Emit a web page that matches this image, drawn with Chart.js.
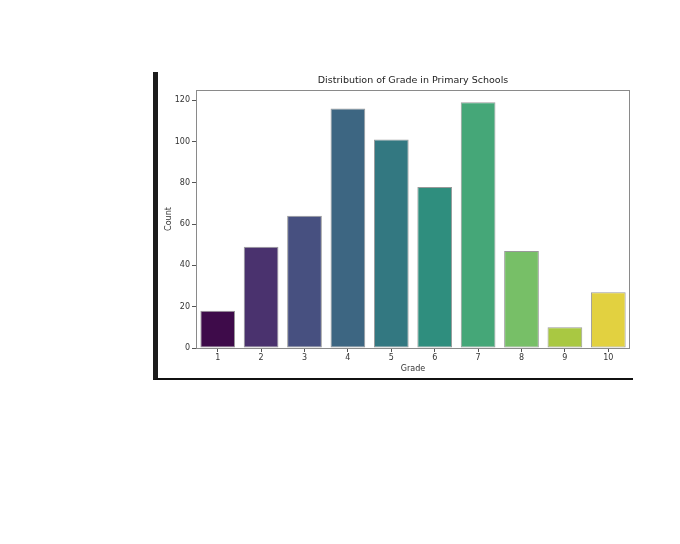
<!DOCTYPE html>
<html lang="en">
<head>
    <meta charset="UTF-8">
    <title>Distribution of Grade in Primary Schools</title>
    <script src="https://cdnjs.cloudflare.com/ajax/libs/Chart.js/4.4.1/chart.umd.min.js"></script>
    <style>
        body {
            margin: 0;
            background: #ffffff;
            width: 680px;
            height: 544px;
            position: relative;
            font-family: "DejaVu Sans", sans-serif;
        }
        .frame {
            position: absolute;
            left: 153px;
            top: 72px;
            width: 475px;
            height: 306px;
            border-left: 5px solid #1c1c1c;
            border-bottom: 2px solid #111;
        }
        .frame canvas {
            display: block;
        }
    </style>
</head>
<body>
    <div class="frame">
        <canvas id="gradeChart" width="475" height="306"></canvas>
    </div>

    <script>
        // values
        const grades = ['1', '2', '3', '4', '5', '6', '7', '8', '9', '10'];
        const counts = [18, 49, 64, 116, 101, 78, 119, 47, 10, 27];
        const yTicks = [0, 20, 40, 60, 80, 100, 120];
        const chartTitle = 'Distribution of Grade in Primary Schools';
        // viridis, desaturated like seaborn's default
        const barColors = ['#3e0b4a', '#4a326e', '#475080', '#3d6682', '#337881',
                           '#2f8e7e', '#45a778', '#77bf67', '#a9c842', '#e2d140'];

        // full box around the plot (matplotlib spines) + title centred over the axes
        const spines = {
            id: 'spines',
            afterDatasetsDraw(chart) {
                const a = chart.chartArea;
                const c = chart.ctx;
                c.save();
                c.strokeStyle = '#8a8a8a';
                c.lineWidth = 1;
                c.strokeRect(a.left + 0.5, a.top + 0.5, a.right - a.left - 1, a.bottom - a.top);
                c.fillStyle = '#222';
                c.font = '9.5px "DejaVu Sans"';
                c.textAlign = 'center';
                c.textBaseline = 'middle';
                c.fillText(chartTitle, (a.left + a.right) / 2, a.top - 9);
                c.restore();
            }
        };

        const tickFont = { family: 'DejaVu Sans', size: 8 };

        new Chart(document.getElementById('gradeChart'), {
            type: 'bar',
            data: {
                labels: grades,
                datasets: [{
                    label: 'Count',
                    data: counts,
                    backgroundColor: barColors,
                    borderColor: 'rgba(0,0,0,0.4)',
                    borderWidth: 1,
                    borderSkipped: false,
                    barPercentage: 0.8,
                    categoryPercentage: 1.0
                }]
            },
            options: {
                responsive: false,
                animation: false,
                layout: { padding: { left: 0, right: 3, top: 18, bottom: 0 } },
                plugins: {
                    legend: { display: false },
                    tooltip: { enabled: false }
                },
                scales: {
                    x: {
                        offset: true,
                        grid: { display: true, offset: false, drawOnChartArea: false, drawTicks: true, tickLength: 4, color: '#555' },
                        border: { display: false },
                        ticks: { color: '#333', font: tickFont, padding: 1, maxRotation: 0 },
                        title: {
                            display: true,
                            text: 'Grade',
                            color: '#333',
                            font: tickFont,
                            padding: { top: 0, bottom: 4 }
                        },
                        afterFit(scale) { scale.height = 30; }
                    },
                    y: {
                        min: 0,
                        max: 124.95,
                        afterBuildTicks(scale) {
                            scale.ticks = yTicks.map(v => ({ value: v }));
                        },
                        grid: { display: true, drawOnChartArea: false, drawTicks: true, tickLength: 4, color: '#555' },
                        border: { display: false },
                        ticks: { color: '#333', font: tickFont, padding: 2 },
                        title: {
                            display: true,
                            text: 'Count',
                            color: '#333',
                            font: tickFont,
                            padding: { top: 6, bottom: 0 }
                        },
                        afterFit(scale) { scale.width = 38; }
                    }
                }
            },
            plugins: [spines]
        });
    </script>
</body>
</html>
